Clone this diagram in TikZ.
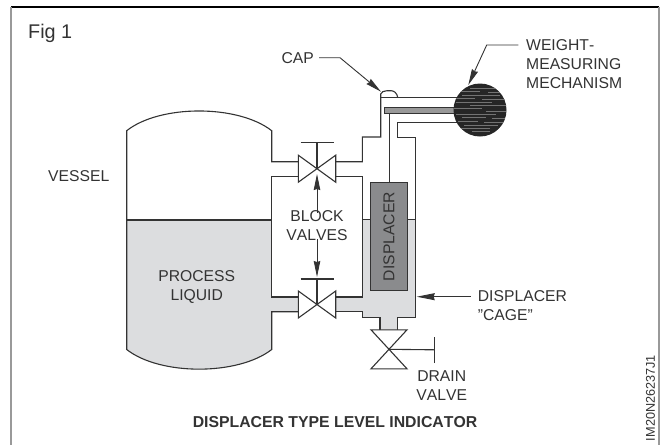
\documentclass[tikz,border=0pt]{standalone}
\usepackage{fontspec}
\setmainfont{Liberation Sans}[Kerning=Off]
\usepackage{xcolor}
\usetikzlibrary{positioning,arrows.meta,calc}
\definecolor{inkc}{HTML}{333333}
\definecolor{liquidc}{HTML}{DCDDDF}
\definecolor{displacerc}{HTML}{8A8B8D}

\begin{document}
\begin{tikzpicture}[x=1pt,y=-1pt,
  pipe/.style={draw=inkc, line width=1.1pt, line join=miter},
  lbl/.style={inner sep=0pt, text=inkc, font=\fontsize{15.7}{19}\selectfont, align=left},
  ctr/.style={lbl, align=center},
  arr/.style={-{Stealth[length=18pt,width=7pt,inset=1pt]}, draw=inkc, line width=0.9pt},
  arrs/.style={-{Stealth[length=16pt,width=6.5pt,inset=1pt]}, draw=inkc, line width=0.9pt}]
\useasboundingbox (0,0) rectangle (661,445);
% frame
\draw[black, line width=1.2pt] (11,7) -- (659,7);
\draw[gray!80, line width=2pt] (11,7) -- (11,445);
\draw[gray!80, line width=2pt] (659,7) -- (659,445);
% liquid
\fill[liquidc] (126.7,220) -- (271.7,220) -- (271.7,297) -- (362.3,297) -- (362.3,219.5) -- (415.7,219.5)
  -- (415.7,317.3) -- (397.3,317.3) -- (397.3,330) -- (380,330) -- (380,317.3) -- (362.3,317.3) -- (362.3,311.7)
  -- (271.7,311.7) -- (271.7,349.5) .. controls (238,375.7) and (160,375.7) .. (126.7,349.5) -- cycle;
\fill[white] (298,296) rectangle (336,313);
% vessel and cage
\draw[pipe] (298,161.7) -- (271.7,161.7) -- (271.7,130.7) .. controls (238,104.4) and (160,104.4) .. (126.7,130.7)
  -- (126.7,349.5) .. controls (160,375.7) and (238,375.7) .. (271.7,349.5) -- (271.7,311.7) -- (298,311.7);
\draw[pipe] (298,176.7) -- (271.7,176.7) -- (271.7,297) -- (298,297);
\draw[pipe] (126.7,220) -- (271.7,220);
\draw[pipe] (362.3,219.5) -- (415.7,219.5);
\draw[pipe] (336,161.7) -- (362.3,161.7) -- (362.3,137) -- (380.7,137) -- (380.7,94)
  .. controls (381,92) and (384,90.7) .. (387,90.7) -- (391,90.7) .. controls (394,90.7) and (397,93) .. (397.7,97.3);
\draw[pipe] (380.7,97.3) -- (460,97.3);
\draw[pipe] (460,122.7) -- (397.3,122.7) -- (397.3,137.3) -- (415.7,137.3) -- (415.7,317.3) -- (397.3,317.3) -- (397.3,330);
\draw[pipe] (336,176.7) -- (362.3,176.7) -- (362.3,297) -- (336,297);
\draw[pipe] (336,311.7) -- (362.3,311.7) -- (362.3,317.3) -- (380,317.3) -- (380,330);
% displacer
\node[pipe, fill=displacerc, minimum width=108.4pt, minimum height=36.6pt, inner sep=0pt, rotate=90,
      text=inkc, font=\fontsize{15.7}{19}\selectfont] (displacer) at (389,236.5) {DISPLACER};
\node[pipe, fill=gray!80, minimum width=75pt, minimum height=5.6pt, inner sep=0pt, anchor=west] (beam) at (384,110.5) {};
\draw[pipe, line width=0.9pt] (beam.south west -| displacer.east) -- (displacer.east);
% weight ball
\node[circle, fill=black!85, minimum size=53pt, inner sep=0pt] (ball) at (480,110) {};
\begin{scope}
\clip (480,110) circle (26.5);
\foreach \y/\a/\b in {88/470/495,91/458/480,92/488/505,95/462/500,98/452/475,99/482/508,102/456/492,105/470/506,
  108/454/482,111/486/507,114/456/496,117/462/486,118/492/506,121/458/478,122/484/504,125/464/498,128/458/490,131/472/490}
  \draw[black!55, line width=0.45pt] (\a,\y) -- (\b,\y);
\end{scope}
% valves
\coordinate (upv) at (317,168.7);
\coordinate (lowv) at (317,304.5);
\coordinate (drainv) at (389,349.3);
\foreach \c in {upv,lowv}
  \draw[pipe, fill=white] ([shift={(-18.7,-13.5)}]\c) -- ([shift={(18.7,13.5)}]\c) -- ([shift={(18.7,-13.5)}]\c)
    -- ([shift={(-18.7,13.5)}]\c) -- cycle;
\draw[pipe, fill=white] ([shift={(-18,-19.5)}]drainv) -- ([shift={(18,-19.5)}]drainv) -- ([shift={(-18,19.5)}]drainv)
  -- ([shift={(18,19.5)}]drainv) -- cycle;
\coordinate (upbar) at (317,142.7);
\coordinate (lowbar) at (317,279);
\coordinate (drainbar) at (434.3,349.8);
\foreach \c/\s in {upv/upbar,lowv/lowbar} {
  \draw[pipe] (\c) -- (\s);
  \draw[pipe] ([xshift=-16.5]\s) -- ([xshift=16.5]\s);
}
\draw[pipe] (drainv) -- (drainbar);
\draw[pipe] ([yshift=-13.3]drainbar) -- ([yshift=13.3]drainbar);
% labels
\node[lbl, font=\fontsize{19.8}{22}\selectfont, anchor=west] (fig) at (28,33) {Fig 1};
\node[lbl, anchor=east] (cap) at (314,57.7) {CAP};
\node[lbl, anchor=west] (weight) at (526,64) {WEIGHT-\\MEASURING\\MECHANISM};
\node[lbl, anchor=west] (vessel) at (48,176) {VESSEL};
\node[ctr] (block) at (317,226) {BLOCK\\VALVES};
\node[ctr] (process) at (196.7,286.7) {PROCESS\\LIQUID};
\node[lbl, anchor=west] (cage) at (477.7,306) {DISPLACER\\"CAGE"};
\node[ctr] (drain) at (441.7,386) {DRAIN\\VALVE};
\node[ctr, font=\bfseries\fontsize{15.8}{19}\selectfont] (title) at (335,422) {DISPLACER TYPE LEVEL INDICATOR};
\node[lbl, font=\fontsize{12.7}{14}\selectfont, rotate=90] (code) at (650.5,398) {IM20N26237J1};
% leaders
\coordinate (capk) at (340,57.7);
\coordinate (captip) at (381,91.7);
\coordinate (wk) at (486.7,45);
\coordinate (wtip) at (468.3,85);
\coordinate (wst) at (518.3,45);
\coordinate (cagetip) at (416.7,296.7);
\coordinate (cagest) at (470.7,296.7);
\coordinate (upt) at (317,174);
\coordinate (lowt) at (317,277);
\draw[arrs] ([xshift=5]cap.east) -- (capk) -- (captip);
\draw[arrs] (wst) -- (wk) -- (wtip);
\draw[arr] (cagest) -- (cagetip);
\draw[arrs] ([yshift=-2]block.north) -- (upt);
\draw[arrs] ([yshift=2]block.south) -- (lowt);
\end{tikzpicture}
\end{document}
